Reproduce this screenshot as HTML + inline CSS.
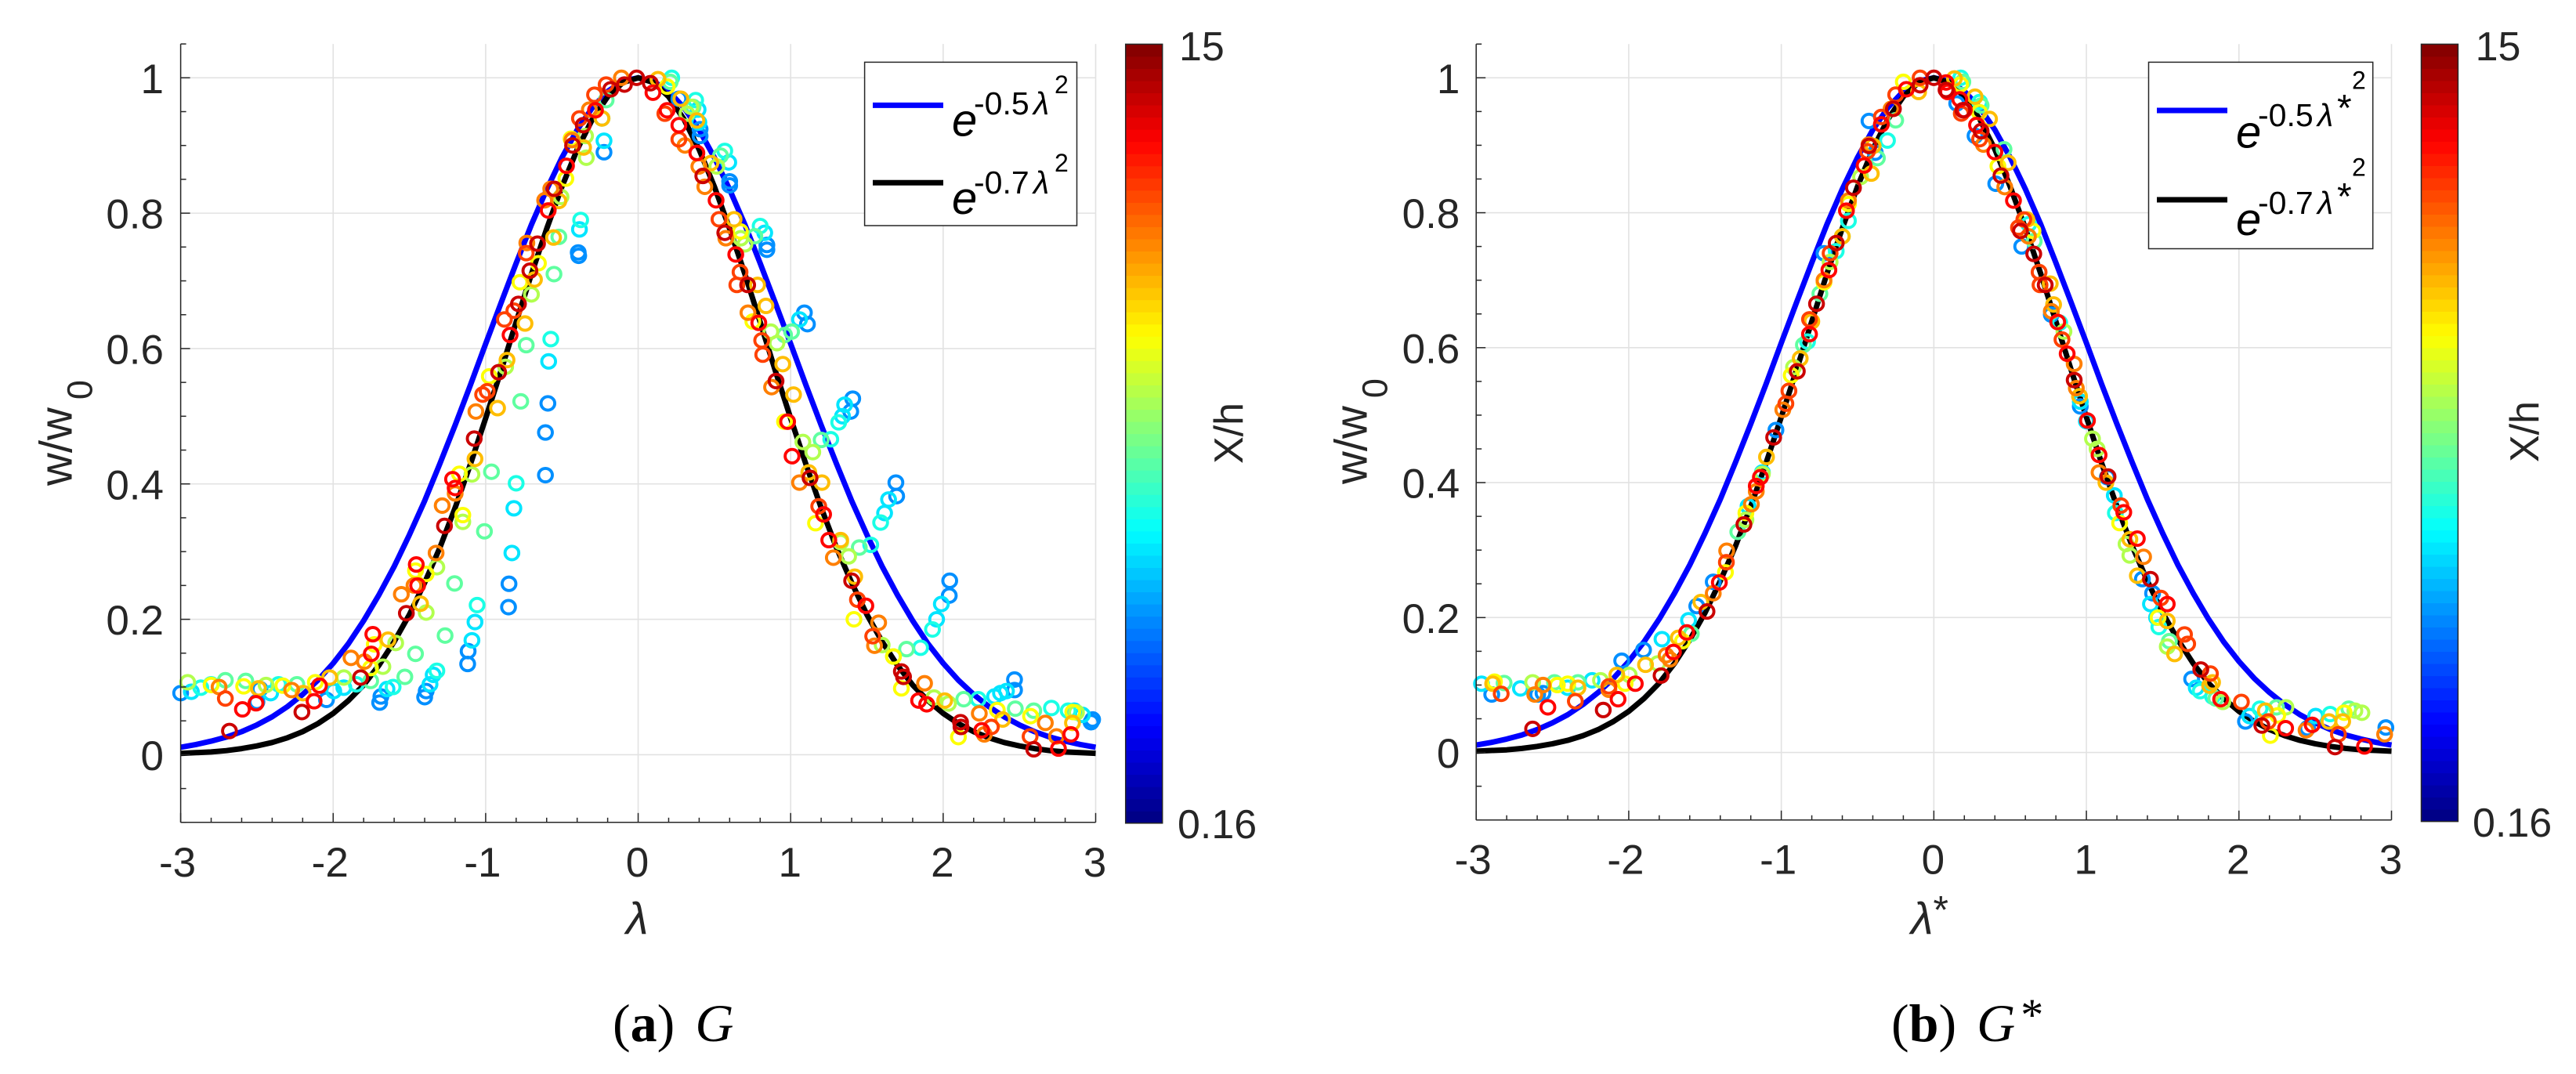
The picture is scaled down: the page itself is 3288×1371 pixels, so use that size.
<!DOCTYPE html>
<html>
<head>
<meta charset="utf-8">
<title>Gaussian profile collapse of w/w0 for G and G*</title>
<style>
html,body{margin:0;padding:0;background:#fff;}
svg{display:block;}
text{font-family:"Liberation Sans",sans-serif;fill:#262626;}
.serif{font-family:"Liberation Serif",serif;fill:#000;}
.leg{fill:#000;}
</style>
</head>
<body>
<svg id="figure" xmlns="http://www.w3.org/2000/svg" width="3288" height="1371" viewBox="0 0 3288 1371">
<rect x="0" y="0" width="3288" height="1371" fill="#fff"/>
<g id="panelA"></g>
<g id="panelB"></g>

<g>
  <rect x="1103.6" y="79.4" width="270.9" height="208.6" fill="#fff" stroke="#262626" stroke-width="1.5"/>
  <line x1="1114" x2="1204" y1="134.4" y2="134.4" stroke="#0000ff" stroke-width="7"/>
  <line x1="1114" x2="1204" y1="233.3" y2="233.3" stroke="#000" stroke-width="7"/>
  <g class="leg">
    <text class="leg" x="1215" y="173.5" font-size="58" font-style="italic">e</text>
    <text class="leg" x="1243" y="146" font-size="41">-0.5</text>
    <text class="leg" x="1319" y="146" font-size="41" font-style="italic">λ</text>
    <text class="leg" x="1346" y="119" font-size="32">2</text>
  </g>
  <g class="leg">
    <text class="leg" x="1215" y="273" font-size="58" font-style="italic">e</text>
    <text class="leg" x="1243" y="247" font-size="41">-0.7</text>
    <text class="leg" x="1319" y="247" font-size="41" font-style="italic">λ</text>
    <text class="leg" x="1346" y="219" font-size="32">2</text>
  </g>
</g>

<g>
  <rect x="2742.5" y="79.4" width="286.2" height="238.1" fill="#fff" stroke="#262626" stroke-width="1.5"/>
  <line x1="2753" x2="2843" y1="141" y2="141" stroke="#0000ff" stroke-width="7"/>
  <line x1="2753" x2="2843" y1="255" y2="255" stroke="#000" stroke-width="7"/>
  <g>
    <text class="leg" x="2854" y="188.7" font-size="58" font-style="italic">e</text>
    <text class="leg" x="2882" y="161" font-size="41">-0.5</text>
    <text class="leg" x="2958" y="161" font-size="41" font-style="italic">λ</text>
    <text class="leg" x="2983" y="154" font-size="48">*</text>
    <text class="leg" x="3002" y="113.6" font-size="32">2</text>
  </g>
  <g>
    <text class="leg" x="2854" y="300" font-size="58" font-style="italic">e</text>
    <text class="leg" x="2882" y="273" font-size="41">-0.7</text>
    <text class="leg" x="2958" y="273" font-size="41" font-style="italic">λ</text>
    <text class="leg" x="2983" y="267" font-size="48">*</text>
    <text class="leg" x="3002" y="224.7" font-size="32">2</text>
  </g>
</g>

<text transform="translate(91.5,620) rotate(-90)" font-size="58">w/w<tspan dx="10" dy="26" font-size="45">0</tspan></text>
<text transform="translate(1744.6,618) rotate(-90)" font-size="58">w/w<tspan dx="10" dy="26" font-size="45">0</tspan></text>
<text x="799" y="1192.7" font-size="58" font-style="italic">λ</text>
<text x="2439" y="1192.7" font-size="58" font-style="italic">λ<tspan font-style="normal" font-size="50" dy="-14">*</tspan></text>
<text transform="translate(1586,592) rotate(-90)" font-size="52">X/h</text>
<text transform="translate(3240,590) rotate(-90)" font-size="52">X/h</text>

<text class="serif" x="782" y="1329" font-size="68">(<tspan font-weight="bold">a</tspan>)<tspan dx="26" font-style="italic">G</tspan></text>
<text class="serif" x="2414" y="1329" font-size="68">(<tspan font-weight="bold">b</tspan>)<tspan dx="26" font-style="italic">G</tspan><tspan font-size="58" dy="-14" dx="7">*</tspan></text>

<script>
const xTicks = [-3,-2,-1,0,1,2,3];
const xTickLabels = ['-3','-2','-1','0','1','2','3'];
const yTicks = [0,0.2,0.4,0.6,0.8,1];
const yTickLabels = ['0','0.2','0.4','0.6','0.8','1'];
const xRange = [-3,3];
const yRange = [-0.1,1.05];
const colorRange = [0.16,15];
const colorbarTickLabels = ['0.16','15'];

const curveLambda = [-3,-2.9,-2.8,-2.7,-2.6,-2.5,-2.4,-2.3,-2.2,-2.1,-2,-1.9,-1.8,-1.7,-1.6,-1.5,-1.4,-1.3,-1.2,-1.1,-1,-0.9,-0.8,-0.7,-0.6,-0.5,-0.4,-0.3,-0.2,-0.1,0,0.1,0.2,0.3,0.4,0.5,0.6,0.7,0.8,0.9,1,1.1,1.2,1.3,1.4,1.5,1.6,1.7,1.8,1.9,2,2.1,2.2,2.3,2.4,2.5,2.6,2.7,2.8,2.9,3];
const curveBlue = [.011,.015,.020,.026,.034,.044,.056,.071,.089,.110,.135,.164,.198,.236,.278,.325,.375,.430,.487,.546,.607,.667,.726,.783,.835,.882,.923,.956,.980,.995,1,.995,.980,.956,.923,.882,.835,.783,.726,.667,.607,.546,.487,.430,.375,.325,.278,.236,.198,.164,.135,.110,.089,.071,.056,.044,.034,.026,.020,.015,.011];
const curveBlack = [.002,.003,.004,.006,.009,.013,.018,.025,.034,.046,.061,.080,.103,.132,.167,.207,.254,.306,.365,.429,.497,.567,.639,.710,.777,.839,.894,.939,.972,.993,1,.993,.972,.939,.894,.839,.777,.710,.639,.567,.497,.429,.365,.306,.254,.207,.167,.132,.103,.080,.061,.046,.034,.025,.018,.013,.009,.006,.004,.003,.002];

/* X/h of each scatter group, in drawing order */
const xhLevels = [4.1,5.35,6.1,7.1,8.3,9.4,10.4,11.3,12.2,13.1,13.9];

/* Panel A: [lambda, w/w0] per X/h level */
const panelA_level1 = [[-.224,.89],[-.393,.742],[-.39,.737],[-.592,.519],[-.608,.476],[-.608,.413],[-.847,.2525],[-.85,.218],[-1.115,.153],[-1.118,.134],[-1.39,.094],[-1.4,.085],[-1.687,.086],[-1.695,.077],[-2.044,.081],[-2.48,.097],[-2.5,.078],[-3,.091],[.267,.969],[.406,.924],[.406,.914],[.6,.847],[.6,.841],[.844,.753],[.844,.746],[1.09,.653],[1.11,.636],[1.407,.526],[1.394,.507],[1.69,.402],[1.695,.382],[2.043,.257],[2.04,.235],[2.468,.111],[2.468,.0955],[2.98,.052],[2.97,.048]];
const panelA_level2 = [[-.224,.907],[-.385,.776],[-.587,.581],[-.815,.364],[-.828,.298],[-1.07,.196],[-1.09,.169],[-1.344,.118],[-1.365,.104],[-1.647,.097],[-1.93,.099],[-1.996,.094],[-2.41,.091],[-2.93,.093],[.393,.953],[.398,.934],[.594,.875],[.83,.771],[1.058,.643],[1.354,.517],[1.34,.5],[1.642,.377],[1.616,.357],[1.988,.2226],[1.957,.2],[2.415,.094],[2.376,.091],[2.337,.086],[2.86,.065],[2.913,.0588]];
const panelA_level3 = [[-.237,.94],[-.377,.79],[-.573,.614],[-.8,.401],[-1.056,.221],[-1.32,.124],[-1.607,.1],[-1.848,.104],[-2.358,.104],[-2.868,.099],[-2.8,.104],[.22,1],[.377,.967],[.568,.892],[.8,.781],[1.315,.491],[1.263,.466],[1.59,.343],[1.525,.31],[1.93,.185],[1.852,.158],[2.23,.082],[2.71,.069],[2.82,.065]];
const panelA_level4 = [[-.21,.967],[-.552,.71],[-.52,.765],[-.734,.605],[-.77,.522],[-.962,.418],[-1.008,.33],[-1.204,.253],[-1.266,.176],[-1.46,.149],[-1.53,.115],[-1.754,.109],[-2.238,.104],[-2.573,.109],[-2.707,.11],[.21,.994],[.36,.957],[.54,.885],[.765,.766],[.96,.62],[1.006,.625],[1.2,.465],[1.45,.306],[1.76,.156],[2.135,.082],[2.473,.068],[2.594,.065]];
const panelA_level5 = [[-.345,.914],[-.34,.882],[-.506,.824],[-.7,.68],[-.869,.573],[-1.09,.414],[-1.15,.344],[-1.32,.277],[-1.39,.21],[-1.59,.165],[-1.674,.13],[-1.93,.114],[-2.44,.103],[-2.954,.107],[.32,.947],[.346,.957],[.516,.869],[.673,.763],[.7,.754],[.87,.625],[.91,.608],[1.08,.462],[1.145,.447],[1.328,.314],[1.38,.293],[1.6,.162],[1.674,.145],[1.94,.0845],[2.035,.0756],[2.874,.0625]];
const panelA_level6 = [[-.44,.91],[-.474,.851],[-.654,.726],[-.775,.698],[-.976,.559],[-1.172,.415],[-1.15,.354],[-1.39,.267],[-1.46,.272],[-1.73,.163],[-1.755,.128],[-2.117,.107],[-2.33,.102],[-2.587,.101],[-2.8,.103],[.19,.987],[.67,.773],[.752,.64],[.96,.492],[1.163,.342],[1.415,.2],[1.674,.145],[1.726,.098],[2.1,.026],[2.355,.066],[2.573,.057],[2.85,.063]];
const panelA_level7 = [[-.358,.897],[-.237,.94],[-.52,.818],[-.555,.764],[-.68,.702],[-.742,.637],[-.922,.512],[-.86,.583],[-1.07,.437],[-1.427,.223],[-1.64,.17],[-2.023,.114],[-2.197,.091],[-2.49,.098],[.13,.998],[.28,.969],[.385,.937],[.477,.874],[.629,.791],[.783,.694],[.838,.663],[.948,.577],[1.019,.532],[1.119,.417],[1.205,.402],[1.328,.317],[1.42,.263],[2.01,.08],[2.39,.052],[2.848,.047]];
const panelA_level8 = [[-.11,1],[-.32,.953],[-.434,.908],[-.573,.836],[-.613,.819],[-.73,.756],[-1.064,.507],[-1.2,.386],[-1.285,.368],[-1.325,.298],[-1.553,.237],[-1.47,.25],[-1.883,.143],[-1.795,.1375],[-2.272,.0955],[-2.748,.1],[.307,.9],[.398,.869],[.437,.839],[.575,.763],[.72,.653],[.875,.543],[1.058,.402],[1.28,.291],[1.577,.195],[1.55,.161],[1.878,.1055],[2.237,.061],[2.27,.03],[2.67,.047],[2.743,.027]];
const panelA_level9 = [[-.21,.99],[-.286,.975],[-.385,.94],[-.734,.741],[-.815,.656],[-.877,.643],[-.99,.537],[-1.02,.532],[-2.707,.083],[.267,.909],[.175,.947],[.53,.791],[.668,.713],[.647,.694],[.81,.612],[.817,.591],[1.184,.367],[1.438,.229],[1.538,.175],[2.316,.041],[2.57,.027]];
const panelA_level10 = [[-.28,.952],[-.47,.87],[-.59,.804],[-.84,.62],[-1.217,.407],[-1.2,.394],[-1.455,.281],[-1.446,.25],[-1.74,.178],[-1.75,.149],[-2.09,.102],[-2.125,.079],[-2.506,.076],[-2.595,.067],[.097,.978],[.19,.952],[.267,.93],[.385,.889],[.511,.819],[.64,.739],[.791,.638],[.98,.492],[1.009,.441],[1.216,.355],[1.25,.317],[1.493,.22],[1.839,.08],[1.892,.0745],[2.253,.036],[2.756,.009],[2.837,.03]];
const panelA_level11 = [[-.01,1],[-.09,.99],[-.18,.983],[-.36,.93],[-.43,.9],[-.55,.836],[-.66,.755],[-.71,.715],[-.785,.666],[-.915,.565],[-1.075,.467],[-1.27,.338],[-1.52,.209],[-1.82,.114],[-2.205,.063],[-2.68,.035],[.08,.992],[.424,.855],[.568,.771],[.718,.694],[.904,.552],[1.127,.409],[1.4,.257],[1.726,.123],[1.74,.115],[2.117,.041],[2.114,.048],[2.594,.008]];

/* Panel B: [lambda*, w/w0] per X/h level */
const panelB_level1 = [[-.425,.936],[-.384,.889],[-.72,.74],[-1.035,.478],[-1.446,.253],[-1.554,.217],[-1.903,.152],[-2.046,.136],[-2.562,.088],[-2.597,.086],[-2.898,.086],[.15,.962],[.27,.914],[.406,.843],[.576,.75],[.77,.649],[.96,.513],[1.137,.408],[1.367,.257],[1.434,.236],[1.69,.109],[2.043,.046],[2.45,.036],[2.963,.037]];
const panelB_level2 = [[-1.124,.415],[-1.218,.365],[-1.608,.196],[-1.782,.168],[-2.24,.107],[-2.71,.095],[-2.965,.102],[-2.4,.096],[1.183,.381],[1,.491],[1.42,.22],[1.46,.2],[1.72,.096],[2.07,.054],[2.503,.054],[.96,.52]];
const panelB_level3 = [[-.304,.907],[-.56,.788],[-.64,.743],[-.828,.609],[.176,1],[.3,.964],[.622,.783],[.825,.637],[1.19,.355],[1.475,.186],[1.827,.083],[1.746,.091],[2.138,.065],[2.598,.057]];
const panelB_level4 = [[-.37,.881],[-.25,.937],[-.747,.68],[-.855,.604],[-1.285,.327],[-.6,.765],[-1.59,.176],[-2.333,.104],[-2.487,.104],[-2.817,.103],[.19,.994],[.31,.959],[.46,.894],[.658,.758],[1.544,.165],[1.848,.08],[2.246,.067],[2.72,.065]];
const panelB_level5 = [[-.48,.853],[-.68,.727],[-.92,.571],[-1.124,.413],[-1.232,.345],[-2.63,.104],[-2.185,.107],[-1.997,.115],[-1.81,.132],[.853,.624],[1.04,.465],[1.07,.45],[1.26,.309],[1.285,.292],[1.53,.157],[1.894,.075],[2.308,.067],[2.806,.059],[2.76,.062]];
const panelB_level6 = [[-.56,.813],[-.72,.697],[-.935,.559],[-1.232,.355],[-.2,.994],[-1.366,.267],[-1.648,.165],[-2.024,.102],[-2.468,.1],[-2.4,.102],[-2.88,.105],[.175,.99],[.298,.949],[.42,.869],[.65,.773],[1.218,.34],[1.47,.2],[2.206,.025],[2.69,.059],[2.254,.055]];
const panelB_level7 = [[-.41,.858],[-.6,.765],[-.8,.639],[-.1,.979],[-.398,.899],[-1.097,.438],[-.876,.584],[-1.527,.223],[-1.675,.17],[-1.89,.13],[-2.078,.115],[-2.892,.102],[-2.333,.096],[.135,.999],[.27,.972],[.365,.939],[.487,.874],[.61,.79],[.785,.664],[.955,.528],[1.128,.4],[1.285,.316],[1.334,.262],[1.53,.195],[1.578,.146],[1.808,.099],[2.68,.046],[1.827,.104],[2.173,.062],[2.59,.046],[.763,.695]];
const panelB_level8 = [[-.56,.818],[-.28,.954],[-.425,.901],[-.72,.7],[-.99,.508],[-1.196,.368],[-1.164,.387],[-1.358,.299],[-1.446,.236],[-1.755,.144],[-1.73,.138],[-2.13,.093],[-2.562,.1],[-2.616,.086],[.325,.901],[.465,.838],[.62,.765],[.77,.654],[.92,.576],[.934,.54],[1.083,.415],[1.375,.29],[2.44,.033],[2.955,.027]];
const panelB_level9 = [[-.95,.536],[-.97,.517],[-.815,.642],[-.68,.74],[-.09,1],[-.25,.975],[-.344,.942],[-.435,.891],[-1.36,.282],[-2.35,.076],[-2.836,.087],[-2.13,.098],[.18,.947],[.3,.909],[.59,.79],[.555,.778],[.69,.712],[.696,.693],[.84,.612],[1.226,.366],[1.488,.229],[1.643,.175],[1.664,.161],[1.813,.117],[2.016,.075],[2.652,.027],[2.192,.046]];
const panelB_level10 = [[-.18,.983],[-.344,.931],[-.457,.87],[-.573,.803],[-.688,.715],[-.815,.62],[-1.164,.395],[-1.137,.408],[-1.406,.252],[-1.62,.178],[-1.707,.149],[-1.957,.102],[-2.07,.079],[-2.53,.067],[.08,.993],[.09,.979],[.17,.968],[.2,.952],[.28,.93],[.4,.89],[.522,.818],[.812,.638],[.874,.591],[1.007,.492],[1.083,.441],[1.245,.356],[1.334,.317],[1.53,.22],[1.88,.079],[2.306,.036],[2.48,.041],[2.823,.009]];
const panelB_level11 = [[-.09,.989],[-.265,.954],[-.425,.899],[-.527,.837],[-.64,.755],[-.769,.665],[-.895,.565],[-1.05,.467],[-1.245,.338],[-1.487,.209],[-1.788,.114],[-2.167,.063],[-2.63,.035],[0,1],[.08,.982],[.19,.952],[.31,.921],[.44,.855],[.568,.773],[.655,.739],[.73,.693],[.92,.552],[1.142,.409],[1.42,.257],[1.75,.123],[2.15,.04],[2.63,.008]];

const NS = 'http://www.w3.org/2000/svg';
function mk(parent, tag, geom) {
  const e = document.createElementNS(NS, tag);
  for (const k in geom) e.setAttribute(k, geom[k]);
  parent.appendChild(e);
  return e;
}
function jet(t) {
  const c = v => Math.round(255 * Math.max(0, Math.min(1, v)));
  return 'rgb(' + c(1.5 - Math.abs(4*t - 3)) + ',' + c(1.5 - Math.abs(4*t - 2)) + ',' + c(1.5 - Math.abs(4*t - 1)) + ')';
}
function colorT(xh) { return (xh - colorRange[0]) / (colorRange[1] - colorRange[0]); }

function drawPanel(cfg) {
  const root = document.getElementById(cfg.id);
  const sx = v => cfg.left + (v - xRange[0]) / (xRange[1] - xRange[0]) * (cfg.right - cfg.left);
  const sy = v => cfg.y0 - v * (cfg.y0 - cfg.y1);
  const top = sy(yRange[1]);
  const bottom = sy(yRange[0]);

  xTicks.forEach(v => {
    const g = mk(root, 'line', {x1: sx(v), x2: sx(v), y1: top, y2: bottom, stroke: '#e2e2e2', 'stroke-width': 1.6});
    
    
  });
  yTicks.forEach(v => {
    const g = mk(root, 'line', {x1: cfg.left, x2: cfg.right, y1: sy(v), y2: sy(v), stroke: '#e2e2e2', 'stroke-width': 1.6});
    
    
  });

  const bluePts = curveLambda.map((l, i) => sx(l).toFixed(1) + ',' + sy(curveBlue[i]).toFixed(1)).join(' ');
  const blackPts = curveLambda.map((l, i) => sx(l).toFixed(1) + ',' + sy(curveBlack[i]).toFixed(1)).join(' ');
  const blueLine = mk(root, 'polyline', {points: bluePts, fill: 'none', stroke: '#0000ff', 'stroke-width': 7, 'stroke-linejoin': 'round'});
  
  
  const blackLine = mk(root, 'polyline', {points: blackPts, fill: 'none', stroke: '#000', 'stroke-width': 7, 'stroke-linejoin': 'round'});
  
  

  cfg.levels.forEach((pts, i) => {
    const col = jet(colorT(xhLevels[i]));
    pts.forEach(p => {
      const m = mk(root, 'ellipse', {cx: sx(p[0]), cy: sy(p[1]), rx: 8.8, ry: 8.6, fill: 'none', stroke: col, 'stroke-width': 3.9});
      
      
    });
  });

  const yAxis = mk(root, 'line', {x1: cfg.left, x2: cfg.left, y1: top, y2: bottom, stroke: '#262626', 'stroke-width': 1.5});
  
  
  const xAxis = mk(root, 'line', {x1: cfg.left, x2: cfg.right, y1: bottom, y2: bottom, stroke: '#262626', 'stroke-width': 1.5});
  
  

  for (let k = 0; k <= 30; k++) {
    const v = xRange[0] + k * 0.2;
    const major = k % 5 === 0;
    const t = mk(root, 'line', {x1: sx(v), x2: sx(v), y1: bottom, y2: bottom - (major ? 12 : 6), stroke: '#262626', 'stroke-width': 1.5});
    
    
  }
  for (let k = 0; k <= 23; k++) {
    const v = yRange[0] + k * 0.05;
    const major = (k - 2) % 4 === 0;
    const t = mk(root, 'line', {x1: cfg.left, x2: cfg.left + (major ? 12 : 7), y1: sy(v), y2: sy(v), stroke: '#262626', 'stroke-width': 1.5});
    
    
  }

  xTicks.forEach((v, i) => {
    const t = mk(root, 'text', {x: sx(v) - (v < 0 ? 4 : 1), y: cfg.xLabelY, 'font-size': 53, 'text-anchor': 'middle'});
    t.textContent = xTickLabels[i];
    
    
  });
  yTicks.forEach((v, i) => {
    const t = mk(root, 'text', {x: cfg.yLabelX, y: sy(v) + 19.5, 'font-size': 53, 'text-anchor': 'end'});
    t.textContent = yTickLabels[i];
    
    
  });

  const bandH = (cfg.cbBottom - cfg.cbTop) / 64;
  for (let b = 0; b < 64; b++) {
    const r = mk(root, 'rect', {x: cfg.cbLeft, y: cfg.cbBottom - (b + 1) * bandH, width: cfg.cbRight - cfg.cbLeft, height: bandH + 0.5, fill: jet((b + 0.5) / 64)});
    
    
  }
  const frame = mk(root, 'rect', {x: cfg.cbLeft, y: cfg.cbTop, width: cfg.cbRight - cfg.cbLeft, height: cfg.cbBottom - cfg.cbTop, fill: 'none', stroke: '#262626', 'stroke-width': 1.5});
  
  
  const lowLabel = mk(root, 'text', {x: cfg.cbLowX, y: cfg.cbLowY, 'font-size': 52});
  lowLabel.textContent = colorbarTickLabels[0];
  
  
  const highLabel = mk(root, 'text', {x: cfg.cbHighX, y: 77, 'font-size': 52});
  highLabel.textContent = colorbarTickLabels[1];
  
  
}

drawPanel({
  id: 'panelA', left: 230.6, right: 1398.5, y0: 963.4, y1: 99.3,
  xLabelY: 1118.8, yLabelX: 209,
  cbLeft: 1436.7, cbRight: 1483.7, cbTop: 56.4, cbBottom: 1050.8,
  cbLowX: 1503, cbLowY: 1070, cbHighX: 1505,
  levels: [panelA_level1,panelA_level2,panelA_level3,panelA_level4,panelA_level5,panelA_level6,panelA_level7,panelA_level8,panelA_level9,panelA_level10,panelA_level11]
});
drawPanel({
  id: 'panelB', left: 1884.2, right: 3052.5, y0: 960.6, y1: 99.3,
  xLabelY: 1115.7, yLabelX: 1863.3,
  cbLeft: 3090.5, cbRight: 3137.4, cbTop: 56.4, cbBottom: 1048.6,
  cbLowX: 3156, cbLowY: 1068, cbHighX: 3159.6,
  levels: [panelB_level1,panelB_level2,panelB_level3,panelB_level4,panelB_level5,panelB_level6,panelB_level7,panelB_level8,panelB_level9,panelB_level10,panelB_level11]
});
</script>
</svg>
</body>
</html>
